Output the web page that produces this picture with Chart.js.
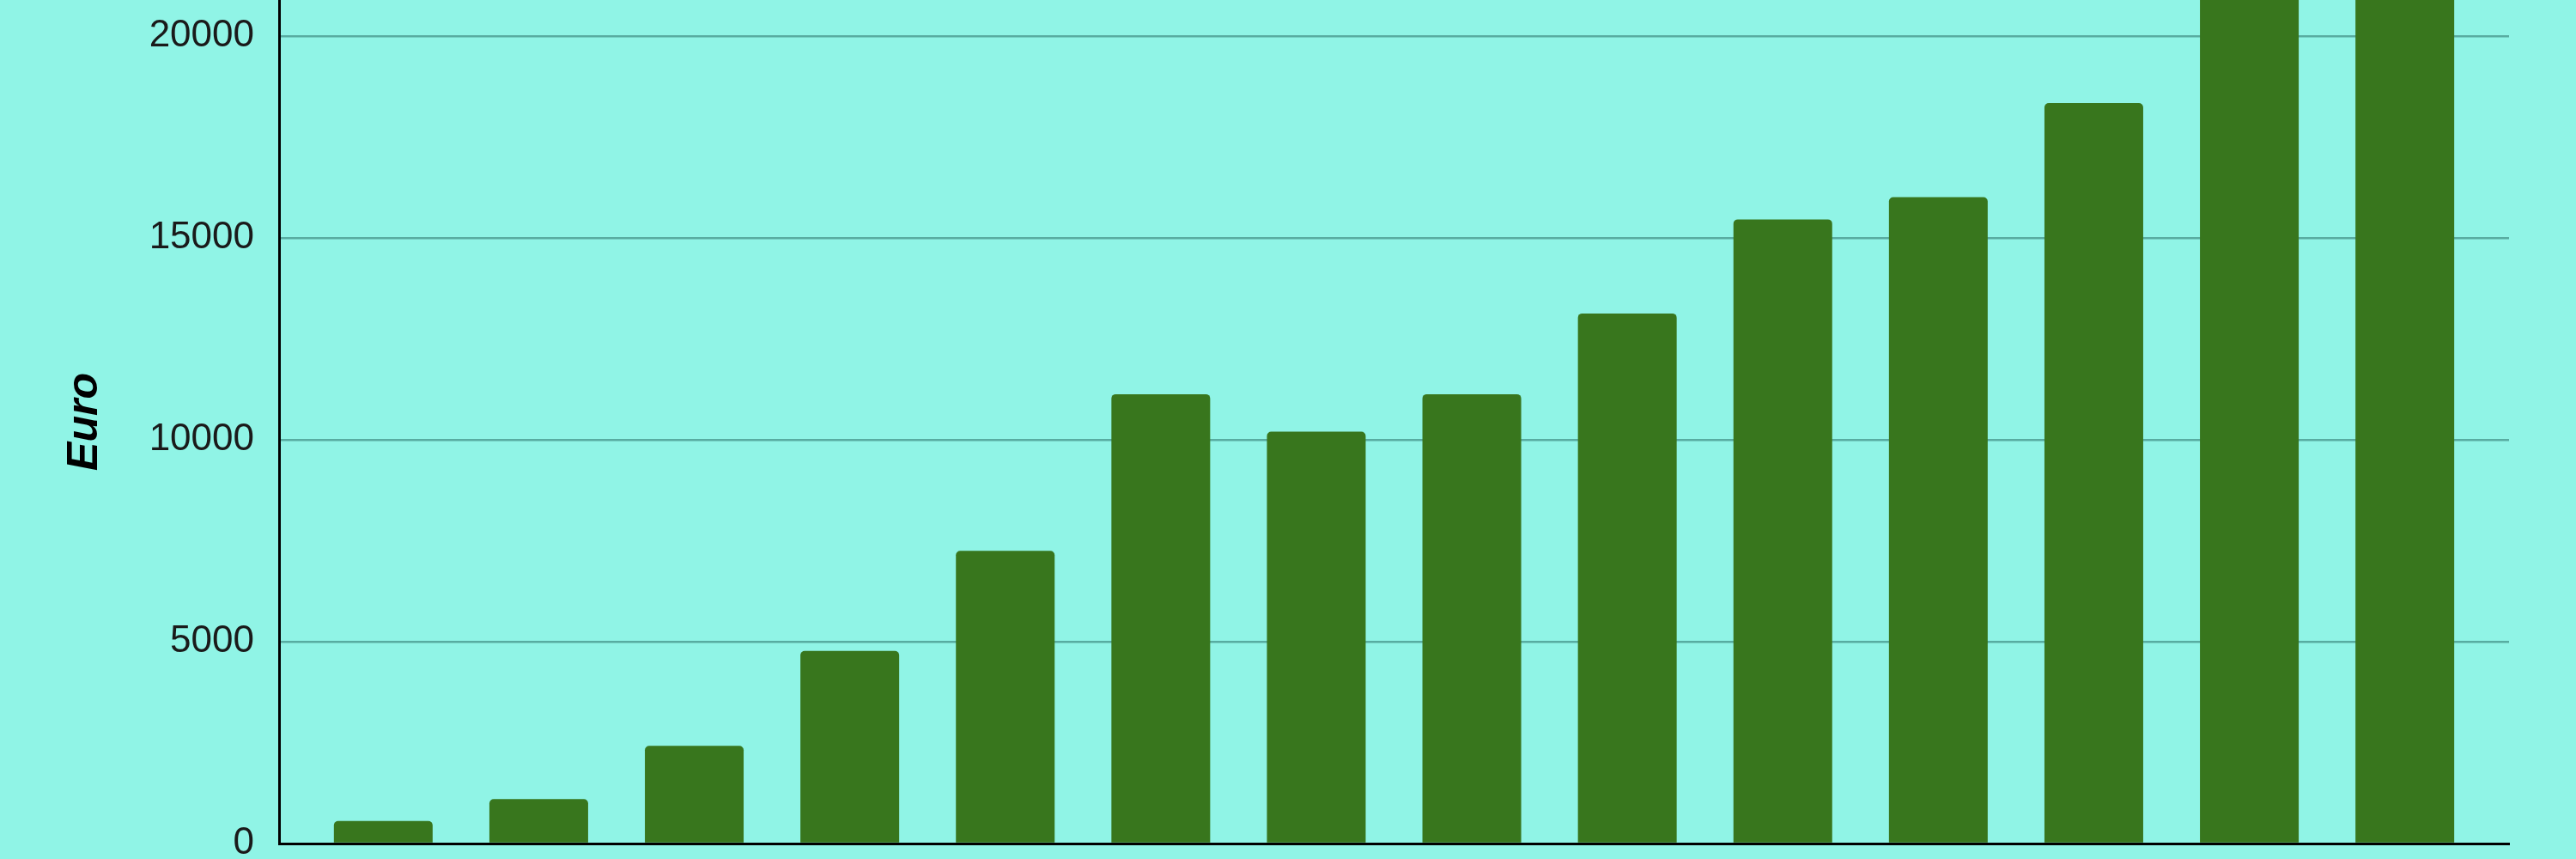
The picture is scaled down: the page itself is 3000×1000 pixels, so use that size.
<!DOCTYPE html>
<html>
<head>
<meta charset="utf-8">
<script src="https://cdn.jsdelivr.net/npm/chart.js@4/dist/chart.umd.min.js"></script>
<style>
  html, body { margin: 0; padding: 0; background: #90f4e6; }
  #wrap { width: 3000px; height: 1000px; }
</style>
</head>
<body>
<div id="wrap"><canvas id="myChart" width="3000" height="1000"></canvas></div>
<script>
"use strict";

// data (last two bars run past the top edge)
const categories = ["1", "2", "3", "4", "5", "6", "7", "8", "9", "10", "11", "12", "13", "14"];
const euroValues = [560, 1100, 2420, 4770, 7250, 11130, 10200, 11130, 13130, 15460, 16010, 18340, 22500, 24000];
const yTicks = [0, 5000, 10000, 15000, 20000];
const yTitle = "Euro";

const ctx = document.getElementById("myChart").getContext("2d");
const myChart = new Chart(ctx, {
    type: "bar",
    data: {
        datasets: [
            {
                label: yTitle,
                data: euroValues.map((v, i) => ({ x: i, y: v })),
                backgroundColor: "#38761d",
                borderRadius: 5,
                borderSkipped: "start",
                barPercentage: 0.635,
                categoryPercentage: 1
            }
        ]
    },
    options: {
        responsive: false,
        devicePixelRatio: 1,
        animation: false,
        layout: { padding: { left: 0, right: 78, top: 0, bottom: 18 } },
        plugins: {
            legend: { display: false },
            tooltip: { enabled: false }
        },
        scales: {
            x: {
                type: "linear",
                offset: false,
                min: -0.67,
                max: 13.67,
                z: 1,
                afterBuildTicks: (scale) => {
                    scale.ticks = categories.map((c, i) => ({ value: i }));
                },
                afterFit: (scale) => {
                    scale.height = 0;
                    scale.paddingLeft = 0;
                    scale.paddingRight = 0;
                },
                ticks: { display: false },
                grid: { display: false },
                border: { display: true, color: "#000000", width: 3 }
            },
            y: {
                min: 0,
                max: 20894,
                afterBuildTicks: (scale) => {
                    scale.ticks = yTicks.map(v => ({ value: v }));
                },
                afterFit: (scale) => {
                    scale.width = 325;
                    scale.paddingTop = 0;
                    scale.paddingBottom = 0;
                },
                ticks: {
                    padding: 29,
                    color: "#1a1a1a",
                    font: { family: "'Liberation Sans', Arial, sans-serif", size: 44 },
                    callback: (v) => String(v)
                },
                grid: {
                    color: (c) => c.tick && c.tick.value === 0 ? "rgba(0,0,0,0)" : "#58aca1",
                    lineWidth: 2.5,
                    drawTicks: false
                },
                border: { display: true, color: "#000000", width: 3 },
                title: {
                    display: true,
                    text: yTitle,
                    color: "#000000",
                    padding: { top: 69, bottom: 0 },
                    font: { family: "'Liberation Sans', Arial, sans-serif", size: 50, weight: "bold", style: "italic" }
                }
            }
        }
    }
});
</script>
</body>
</html>
